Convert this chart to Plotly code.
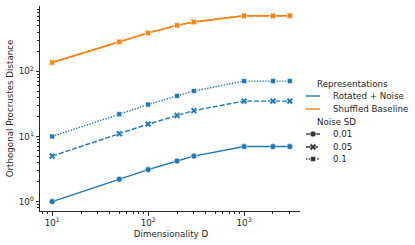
import plotly.graph_objects as go

dims = [10, 50, 100, 200, 300, 1000, 2000, 3000]
noise_sd = ["0.01", "0.05", "0.1"]
rotated = {
    "0.01": [1.0, 2.2, 3.1, 4.2, 5.0, 7.0, 7.0, 7.0],
    "0.05": [5.0, 11.0, 15.5, 21.0, 25.0, 35.0, 35.0, 35.0],
    "0.1": [10.0, 22.0, 31.0, 42.0, 50.0, 71.0, 71.0, 71.0],
}
shuffled = [137, 285, 390, 510, 575, 716, 716, 716]
x_tickvals = [10, 100, 1000]
x_ticktext = ["10<sup>1</sup>", "10<sup>2</sup>", "10<sup>3</sup>"]
y_tickvals = [1, 10, 100]
y_ticktext = ["10<sup>0</sup>", "10<sup>1</sup>", "10<sup>2</sup>"]

BLUE = "#1f77b4"
ORANGE = "#ff7f0e"
GRAY = "#333333"
TXT = "#262626"
FONT = "DejaVu Sans"
FS = 8.7
W, H = 415, 245

dash_map = {"0.01": "solid", "0.05": "5px,2px", "0.1": "1.4px,1.4px"}
sym_map = {"0.01": "circle", "0.05": "x", "0.1": "square"}
size_map = {"0.01": 6, "0.05": 6, "0.1": 5}

fig = go.Figure()

for color, getter in [(BLUE, lambda s: rotated[s]), (ORANGE, lambda s: shuffled)]:
    for s in noise_sd:
        fig.add_trace(go.Scatter(
            x=dims, y=getter(s), mode="lines+markers",
            line=dict(color=color, width=1.4, dash=dash_map[s]),
            marker=dict(symbol=sym_map[s], size=size_map[s], color=color,
                        line=dict(color="white", width=0.6)),
            showlegend=False, hoverinfo="skip",
        ))

# custom legend drawn on an overlay axis in pixel units
lx0, lx1, ltext, ltitle = 306, 320, 331, 315
rows = {"Representations": 84, "Rotated + Noise": 96, "Shuffled Baseline": 109,
        "Noise SD": 122, "0.01": 134, "0.05": 147, "0.1": 159}
annotations = []
for lab in ["Representations", "Noise SD"]:
    annotations.append(dict(x=ltitle, y=rows[lab], xref="x2", yref="y2", text=lab,
                            showarrow=False, xanchor="left", yanchor="middle",
                            font=dict(family=FONT, size=FS, color=TXT)))
for lab, col in [("Rotated + Noise", BLUE), ("Shuffled Baseline", ORANGE)]:
    fig.add_trace(go.Scatter(x=[lx0, lx1], y=[rows[lab]] * 2, mode="lines",
                             line=dict(color=col, width=1.4), xaxis="x2", yaxis="y2",
                             showlegend=False, hoverinfo="skip"))
    annotations.append(dict(x=ltext, y=rows[lab], xref="x2", yref="y2", text=lab,
                            showarrow=False, xanchor="left", yanchor="middle",
                            font=dict(family=FONT, size=FS, color=TXT)))
for s in noise_sd:
    fig.add_trace(go.Scatter(x=[lx0, (lx0 + lx1) / 2, lx1], y=[rows[s]] * 3,
                             mode="lines", line=dict(color=GRAY, width=1.4, dash=dash_map[s]),
                             xaxis="x2", yaxis="y2", showlegend=False, hoverinfo="skip"))
    fig.add_trace(go.Scatter(x=[(lx0 + lx1) / 2], y=[rows[s]], mode="markers",
                             marker=dict(symbol=sym_map[s], size=size_map[s], color=GRAY,
                                         line=dict(color="white", width=0.6)),
                             xaxis="x2", yaxis="y2", showlegend=False, hoverinfo="skip"))
    annotations.append(dict(x=ltext, y=rows[s], xref="x2", yref="y2", text=s,
                            showarrow=False, xanchor="left", yanchor="middle",
                            font=dict(family=FONT, size=FS, color=TXT)))

minor_x = [m * 10 ** e for e in range(0, 4) for m in range(2, 10)]
minor_y = [m * 10 ** e for e in range(-1, 4) for m in range(2, 10)]

def log_axis(tv, tt, minor_vals):
    return dict(
        type="log", showgrid=False, zeroline=False, showline=True, linecolor=TXT,
        linewidth=1, ticks="outside", ticklen=3.5, tickwidth=0.8, tickcolor=TXT,
        tickmode="array", tickvals=tv, ticktext=tt,
        tickfont=dict(family=FONT, size=FS, color=TXT),
        minor=dict(ticks="outside", ticklen=2, tickwidth=0.6, tickcolor=TXT,
                   tickmode="array", tickvals=minor_vals, showgrid=False),
    )

x0p, x1p, y0p, y1p = 40, 302, 6, 211
fig.update_layout(
    width=W, height=H, margin=dict(l=0, r=0, t=0, b=0),
    paper_bgcolor="white", plot_bgcolor="white",
    font=dict(family=FONT, size=FS, color=TXT),
    xaxis=dict(log_axis(x_tickvals, x_ticktext, minor_x),
               domain=[x0p / W, x1p / W], range=[0.873, 3.604],
               title=dict(text="Dimensionality D", standoff=3,
                          font=dict(family=FONT, size=FS, color=TXT))),
    yaxis=dict(log_axis(y_tickvals, y_ticktext, minor_y),
               domain=[1 - y1p / H, 1 - y0p / H], range=[-0.145, 3.005],
               title=dict(text="Orthogonal Procrustes Distance", standoff=3,
                          font=dict(family=FONT, size=FS, color=TXT))),
    xaxis2=dict(domain=[300 / W, 1], range=[300, W], visible=False, fixedrange=True),
    yaxis2=dict(domain=[0, 1], range=[H, 0], visible=False, fixedrange=True, anchor="x2"),
    annotations=annotations,
    showlegend=False,
)
for tr in fig.data:
    if tr.xaxis == "x2":
        tr.update(cliponaxis=False)

fig.write_html("out.html", config={"displayModeBar": False},
               post_script="document.body.style.margin='0';document.body.style.padding='0';")
